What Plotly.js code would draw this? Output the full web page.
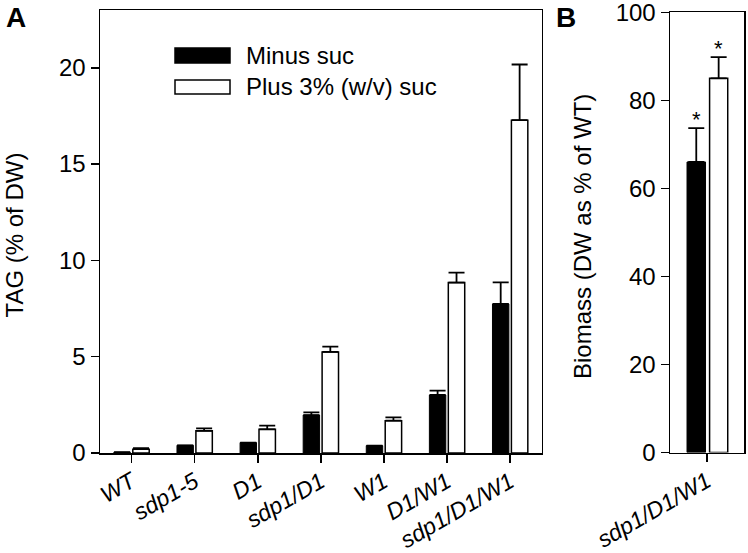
<!DOCTYPE html>
<html>
<head>
<meta charset="utf-8">
<script src="https://cdn.plot.ly/plotly-3.0.1.min.js"></script>
<style>html,body{margin:0;padding:0;background:#fff;}#chart{width:748px;height:553px;}</style>
</head>
<body>
<div id="chart"></div>
<script>
// Panel A data: TAG (% of DW)
const genotypes = ['WT', 'sdp1-5', 'D1', 'sdp1/D1', 'W1', 'D1/W1', 'sdp1/D1/W1'];
const tagMinus = [0.04, 0.40, 0.54, 1.97, 0.38, 3.01, 7.74];
const tagMinusErr = [0.0, 0.0, 0.0, 0.14, 0.0, 0.23, 1.12];
const tagPlus = [0.20, 1.15, 1.23, 5.25, 1.68, 8.85, 17.28];
const tagPlusErr = [0.05, 0.13, 0.19, 0.27, 0.17, 0.52, 2.89];

// Panel B data: Biomass (DW as % of WT)
const biomassGenotype = ['sdp1/D1/W1'];
const biomassMinus = [66.0];
const biomassMinusErr = [7.7];
const biomassPlus = [85.0];
const biomassPlusErr = [4.8];

const seriesNames = ['Minus suc', 'Plus 3% (w/v) suc'];
const axisTitles = ['TAG (% of DW)', 'Biomass (DW as % of WT)'];
const tagTicks = [0, 5, 10, 15, 20];
const biomassTicks = [0, 20, 40, 60, 80, 100];

const FONT = 'Liberation Sans, Arial, sans-serif';
const FS = 24;

function errCfg(arr) {
  return {type: 'data', array: arr, arrayminus: arr.map(() => 0), symmetric: false,
          visible: true, color: '#000', thickness: 1.8, width: 8};
}

const traces = [
  {type: 'bar', x: genotypes, y: tagMinus, name: seriesNames[0], xaxis: 'x', yaxis: 'y',
   marker: {color: '#000', line: {color: '#000', width: 1}}, offset: -0.28, width: 0.26,
   error_y: errCfg(tagMinusErr), showlegend: false},
  {type: 'bar', x: genotypes, y: tagPlus, name: seriesNames[1], xaxis: 'x', yaxis: 'y',
   marker: {color: '#fff', line: {color: '#000', width: 1.5}}, offset: 0.02, width: 0.26,
   error_y: errCfg(tagPlusErr), showlegend: false},
  {type: 'bar', x: biomassGenotype, y: biomassMinus, name: seriesNames[0], xaxis: 'x2', yaxis: 'y2',
   marker: {color: '#000', line: {color: '#000', width: 1}}, offset: -0.27, width: 0.25,
   error_y: errCfg(biomassMinusErr), showlegend: false},
  {type: 'bar', x: biomassGenotype, y: biomassPlus, name: seriesNames[1], xaxis: 'x2', yaxis: 'y2',
   marker: {color: '#fff', line: {color: '#000', width: 1.5}}, offset: 0.035, width: 0.245,
   error_y: errCfg(biomassPlusErr), showlegend: false}
];

const W = 748, H = 553;
const px = v => v / W, py = v => 1 - v / H;

const axisCommon = {showline: true, linecolor: '#000', linewidth: 1.5, mirror: true,
  ticks: 'outside', ticklen: 8, tickwidth: 1.5, tickcolor: '#000', showgrid: false, zeroline: false,
  ticklabeloverflow: 'allow',
  tickfont: {family: FONT, size: FS, color: '#000'}};

const txtFont = {family: FONT, size: FS, color: '#000'};
const catFont = {family: FONT, size: 23, color: '#000', style: 'italic'};

const annotations = [
  {text: '<b>A</b>', xref: 'paper', yref: 'paper', x: px(16), y: py(18), showarrow: false,
   font: {family: FONT, size: 28, color: '#000'}, xanchor: 'center', yanchor: 'middle'},
  {text: '<b>B</b>', xref: 'paper', yref: 'paper', x: px(566), y: py(18), showarrow: false,
   font: {family: FONT, size: 28, color: '#000'}, xanchor: 'center', yanchor: 'middle'},
  {text: axisTitles[0], xref: 'paper', yref: 'paper', x: px(14.5), y: py(235), textangle: -90,
   showarrow: false, font: txtFont, xanchor: 'center', yanchor: 'middle'},
  {text: axisTitles[1], xref: 'paper', yref: 'paper', x: px(582), y: py(237), textangle: -90,
   showarrow: false, font: txtFont, xanchor: 'center', yanchor: 'middle'},
  {text: seriesNames[0], xref: 'paper', yref: 'paper', x: px(244), y: py(55), showarrow: false,
   font: txtFont, xanchor: 'left', yanchor: 'middle'},
  {text: seriesNames[1], xref: 'paper', yref: 'paper', x: px(244), y: py(86), showarrow: false,
   font: txtFont, xanchor: 'left', yanchor: 'middle'},
  {text: '*', xref: 'x2', yref: 'y2', x: -0.27 + 0.125, y: biomassMinus[0] + biomassMinusErr[0],
   showarrow: false, font: {family: FONT, size: 22, color: '#000'}, xanchor: 'center', yanchor: 'bottom', yshift: -6},
  {text: '*', xref: 'x2', yref: 'y2', x: 0.035 + 0.1225, y: biomassPlus[0] + biomassPlusErr[0],
   showarrow: false, font: {family: FONT, size: 22, color: '#000'}, xanchor: 'center', yanchor: 'bottom', yshift: -6}
];

const shapes = [
  {type: 'rect', xref: 'paper', yref: 'paper', x0: px(175), x1: px(230), y0: py(48), y1: py(63),
   fillcolor: '#000', line: {color: '#000', width: 1.5}},
  {type: 'rect', xref: 'paper', yref: 'paper', x0: px(175), x1: px(230), y0: py(80), y1: py(94),
   fillcolor: '#fff', line: {color: '#000', width: 1.5}}
];

const layout = {
  width: W, height: H, margin: {l: 0, r: 0, t: 0, b: 0},
  paper_bgcolor: '#fff', plot_bgcolor: '#fff', barmode: 'overlay', showlegend: false,
  font: {family: FONT, size: FS, color: '#000'},
  xaxis: Object.assign({}, axisCommon, {domain: [px(100), px(541.7)], anchor: 'y', type: 'category',
    range: [-0.5, 6.5], tickangle: -30, ticklabelstandoff: -3, tickfont: catFont}),
  yaxis: Object.assign({}, axisCommon, {domain: [py(453), py(10)], anchor: 'x', range: [0, 23],
    tickvals: tagTicks}),
  xaxis2: Object.assign({}, axisCommon, {domain: [px(670), px(744)], anchor: 'y2', type: 'category',
    range: [-0.5, 0.5], tickangle: -30, ticklabelstandoff: -3, tickfont: catFont}),
  yaxis2: Object.assign({}, axisCommon, {domain: [py(452.5), py(12.3)], anchor: 'x2', range: [0, 100],
    tickvals: biomassTicks}),
  annotations: annotations, shapes: shapes
};

Plotly.newPlot('chart', traces, layout, {displayModeBar: false, staticPlot: true});
</script>
</body>
</html>
